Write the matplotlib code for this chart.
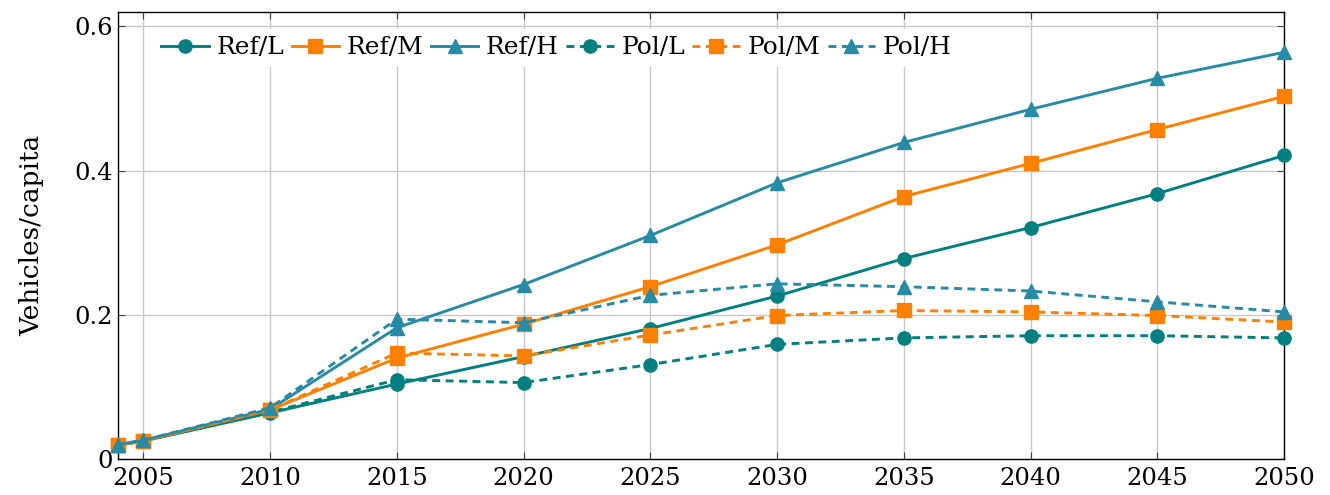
import matplotlib.pyplot as plt

# Vehicle ownership scenarios (vehicles per capita)
years = [2004, 2005, 2010, 2015, 2020, 2025, 2030, 2035, 2040, 2045, 2050]

ref_l = [0.019, 0.025, 0.064, 0.104, 0.142, 0.181, 0.226, 0.278, 0.321, 0.368, 0.421]
ref_m = [0.019, 0.025, 0.068, 0.140, 0.187, 0.239, 0.297, 0.364, 0.410, 0.457, 0.503]
ref_h = [0.020, 0.026, 0.069, 0.182, 0.242, 0.310, 0.383, 0.439, 0.485, 0.528, 0.564]
pol_l = [0.019, 0.025, 0.065, 0.110, 0.106, 0.131, 0.159, 0.168, 0.171, 0.171, 0.168]
pol_m = [0.019, 0.025, 0.068, 0.147, 0.143, 0.172, 0.199, 0.206, 0.204, 0.199, 0.190]
pol_h = [0.020, 0.026, 0.071, 0.194, 0.189, 0.227, 0.243, 0.239, 0.233, 0.218, 0.204]

teal = "#008080"
orange = "#ff8000"
blue = "#268ba7"

plt.rcParams["font.family"] = ["DejaVu Serif"]
plt.rcParams["font.size"] = 17

fig = plt.figure(figsize=(13.3, 4.95), dpi=100)
ax = fig.add_axes([0.0887, 0.0727, 0.8767, 0.9031])

lw = 2.1
series = [
    ("Ref/L", ref_l, teal, "o", "-"),
    ("Ref/M", ref_m, orange, "s", "-"),
    ("Ref/H", ref_h, blue, "^", "-"),
    ("Pol/L", pol_l, teal, "o", "--"),
    ("Pol/M", pol_m, orange, "s", "--"),
    ("Pol/H", pol_h, blue, "^", "--"),
]
for name, vals, col, mk, ls in series:
    line, = ax.plot(years, vals, color=col, marker=mk, linestyle=ls, lw=lw,
                    markersize=9.5 if mk != "^" else 10, label=name, clip_on=False,
                    zorder=3)
    if ls == "--":
        line.set_dashes((2.7, 1.9))

ax.set_xlim(2004, 2050)
ax.set_ylim(0, 0.62)
ax.set_xticks(range(2005, 2051, 5))
ax.set_yticks([0, 0.2, 0.4, 0.6])
ax.set_yticklabels(["0", "0.2", "0.4", "0.6"])
ax.grid(True, color="#c8c8c8", lw=1)
ax.set_axisbelow(True)
ax.tick_params(direction="in", top=True, right=True, length=5, color="#444444",
               labelsize=17.5)
ax.tick_params(axis="x", pad=6)
for s in ax.spines.values():
    s.set_linewidth(1)

ax.set_ylabel("Vehicles/capita", fontsize=19, labelpad=22)

leg = ax.legend(loc="upper left", ncol=6, frameon=True, fontsize=18,
                bbox_to_anchor=(0.02, 0.99), handlelength=1.9,
                columnspacing=0.3, handletextpad=0.3, borderpad=0.3)
leg.get_frame().set_edgecolor("none")
leg.get_frame().set_facecolor("white")
leg.get_frame().set_alpha(1)
leg.get_frame().set_boxstyle("square", pad=0)

fig.savefig("out.png", dpi=100)
